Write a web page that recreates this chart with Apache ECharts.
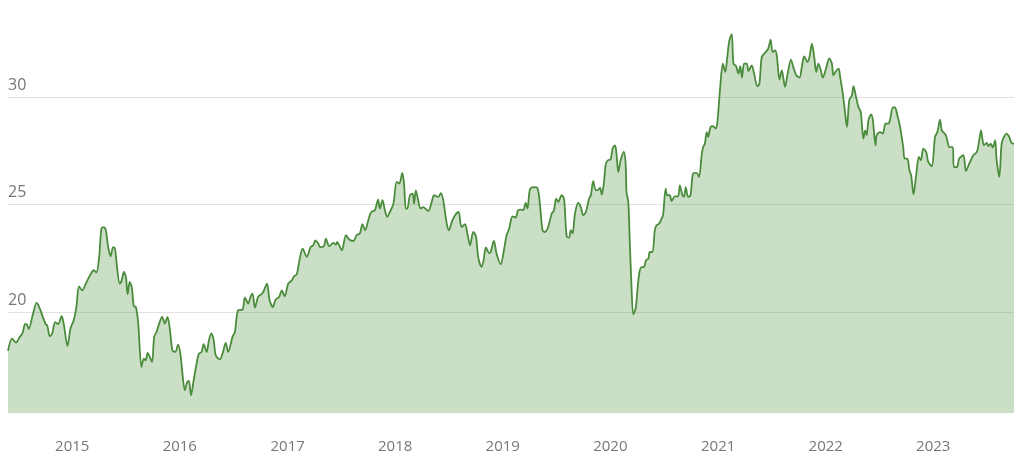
<!DOCTYPE html>
<html>
<head>
<meta charset="utf-8">
<script src="https://cdn.jsdelivr.net/npm/echarts@6/dist/echarts.min.js"></script>
<style>
html,body{margin:0;padding:0;background:#fff;}
#chart{width:1024px;height:468px;}
</style>
</head>
<body>
<div id="chart"></div>
<script>
const dates = [
"2014-05-28","2014-06-11","2014-06-24","2014-07-07","2014-07-16","2014-07-25","2014-07-30","2014-08-06","2014-08-21","2014-09-02",
"2014-09-11","2014-09-24","2014-10-03","2014-10-08","2014-10-17","2014-10-25","2014-11-04","2014-11-14","2014-11-26","2014-12-03",
"2014-12-16","2014-12-26","2015-01-06","2015-01-15","2015-01-24","2015-02-04","2015-02-15","2015-03-02","2015-03-15","2015-03-24",
"2015-04-02","2015-04-10","2015-04-18","2015-04-25","2015-05-03","2015-05-11","2015-05-20","2015-05-26","2015-06-02","2015-06-11",
"2015-06-18","2015-06-25","2015-07-02","2015-07-08","2015-07-15","2015-07-22","2015-07-29","2015-08-05","2015-08-13","2015-08-24",
"2015-09-01","2015-09-07","2015-09-14","2015-09-21","2015-09-29","2015-10-06","2015-10-14","2015-10-23","2015-11-02","2015-11-11",
"2015-11-20","2015-11-28","2015-12-07","2015-12-17","2015-12-26","2016-01-03","2016-01-10","2016-01-18","2016-01-26","2016-02-01",
"2016-02-08","2016-02-17","2016-02-27","2016-03-06","2016-03-15","2016-03-22","2016-04-01","2016-04-09","2016-04-17","2016-04-25",
"2016-05-02","2016-05-16","2016-05-25","2016-06-05","2016-06-13","2016-06-28","2016-07-06","2016-07-17","2016-08-01","2016-08-09",
"2016-08-20","2016-08-28","2016-09-04","2016-09-12","2016-09-23","2016-10-08","2016-10-15","2016-10-23","2016-11-01","2016-11-12",
"2016-11-21","2016-12-03","2016-12-12","2016-12-22","2017-01-03","2017-01-15","2017-01-23","2017-02-01","2017-02-10","2017-02-21",
"2017-03-07","2017-03-20","2017-03-29","2017-04-05","2017-04-15","2017-04-21","2017-05-04","2017-05-11","2017-05-22","2017-06-05",
"2017-06-14","2017-06-18","2017-06-25","2017-07-04","2017-07-18","2017-07-29","2017-08-12","2017-08-23","2017-09-03","2017-09-12",
"2017-09-21","2017-10-03","2017-10-12","2017-10-24","2017-11-04","2017-11-10","2017-11-19","2017-11-27","2017-12-05","2017-12-14",
"2017-12-26","2018-01-06","2018-01-15","2018-01-25","2018-01-31","2018-02-06","2018-02-11","2018-02-20","2018-03-01","2018-03-06",
"2018-03-12","2018-03-20","2018-03-28","2018-04-06","2018-04-23","2018-05-05","2018-05-13","2018-05-27","2018-06-05","2018-06-13",
"2018-06-25","2018-07-02","2018-07-12","2018-07-23","2018-08-04","2018-08-14","2018-08-26","2018-09-03","2018-09-12","2018-09-23",
"2018-10-02","2018-10-10","2018-10-21","2018-10-27","2018-11-05","2018-11-16","2018-11-21","2018-12-02","2018-12-11","2018-12-25",
"2019-01-05","2019-01-14","2019-01-23","2019-02-03","2019-02-14","2019-02-22","2019-03-06","2019-03-11","2019-03-20","2019-03-26",
"2019-04-03","2019-04-14","2019-04-28","2019-05-07","2019-05-16","2019-05-24","2019-06-04","2019-06-16","2019-06-24","2019-07-01",
"2019-07-08","2019-07-20","2019-07-28","2019-08-06","2019-08-14","2019-08-20","2019-08-26","2019-09-03","2019-09-14","2019-09-23",
"2019-10-01","2019-10-10","2019-10-21","2019-10-27","2019-11-04","2019-11-13","2019-11-21","2019-11-27","2019-12-03","2019-12-10",
"2019-12-17","2019-12-25","2020-01-02","2020-01-09","2020-01-17","2020-01-22","2020-01-28","2020-02-05","2020-02-16","2020-02-22",
"2020-02-25","2020-03-02","2020-03-07","2020-03-13","2020-03-19","2020-03-27","2020-04-01","2020-04-08","2020-04-16","2020-04-24",
"2020-05-01","2020-05-09","2020-05-14","2020-05-23","2020-05-31","2020-06-06","2020-06-15","2020-06-23","2020-06-28","2020-07-07",
"2020-07-12","2020-07-21","2020-07-27","2020-08-07","2020-08-18","2020-08-24","2020-09-01","2020-09-07","2020-09-13","2020-09-21",
"2020-09-29","2020-10-08","2020-10-20","2020-10-28","2020-11-06","2020-11-11","2020-11-17","2020-11-23","2020-11-28","2020-12-06",
"2020-12-15","2020-12-24","2020-12-30","2021-01-08","2021-01-17","2021-01-25","2021-02-01","2021-02-08","2021-02-16","2021-02-22",
"2021-03-03","2021-03-11","2021-03-17","2021-03-23","2021-03-30","2021-04-08","2021-04-14","2021-04-25","2021-05-03","2021-05-14",
"2021-05-21","2021-05-29","2021-06-09","2021-06-20","2021-06-28","2021-07-05","2021-07-13","2021-07-19","2021-07-28","2021-08-05",
"2021-08-16","2021-08-24","2021-09-05","2021-09-13","2021-09-23","2021-10-04","2021-10-12","2021-10-20","2021-10-31","2021-11-07",
"2021-11-15","2021-11-23","2021-11-30","2021-12-07","2021-12-15","2021-12-22","2022-01-02","2022-01-13","2022-01-22","2022-01-27",
"2022-02-05","2022-02-14","2022-02-19","2022-02-28","2022-03-08","2022-03-14","2022-03-22","2022-03-31","2022-04-05","2022-04-14",
"2022-04-22","2022-04-30","2022-05-09","2022-05-15","2022-05-20","2022-05-26","2022-06-04","2022-06-10","2022-06-19","2022-06-23",
"2022-07-05","2022-07-14","2022-07-23","2022-08-02","2022-08-07","2022-08-17","2022-08-24","2022-09-01","2022-09-10","2022-09-21",
"2022-09-26","2022-10-05","2022-10-12","2022-10-18","2022-10-26","2022-11-04","2022-11-13","2022-11-20","2022-11-28","2022-12-08",
"2022-12-15","2022-12-27","2023-01-07","2023-01-15","2023-01-24","2023-01-30","2023-02-13","2023-02-25","2023-03-08","2023-03-12",
"2023-03-22","2023-03-30","2023-04-13","2023-04-22","2023-05-03","2023-05-17","2023-05-29","2023-06-06","2023-06-12","2023-06-22",
"2023-07-01","2023-07-08","2023-07-15","2023-07-22","2023-07-30","2023-08-04","2023-08-13","2023-08-21","2023-08-29","2023-09-07",
"2023-09-16","2023-09-24","2023-10-02"
];
const values = [
18.19,18.76,18.58,18.84,19.00,19.43,19.43,19.21,19.92,20.42,
20.23,19.74,19.43,19.38,18.87,19.00,19.53,19.43,19.80,19.46,
18.42,19.23,19.61,20.23,21.19,21.00,21.28,21.70,21.94,21.84,
22.51,23.88,23.95,23.80,23.02,22.59,23.02,22.95,22.09,21.32,
21.47,21.86,21.63,20.82,21.40,21.16,20.26,20.23,19.46,17.44,
17.83,17.75,18.09,17.91,17.67,18.84,19.07,19.46,19.77,19.46,
19.77,19.23,18.22,18.14,18.48,18.06,17.13,16.36,16.74,16.79,
16.12,16.82,17.60,18.06,18.14,18.50,18.14,18.69,19.00,18.69,
17.99,17.79,18.06,18.56,18.14,18.84,19.07,20.08,20.11,20.67,
20.39,20.70,20.85,20.20,20.70,20.88,21.09,21.32,20.54,20.23,
20.57,20.70,21.00,20.73,21.32,21.47,21.66,21.75,22.41,22.95,
22.56,23.02,23.10,23.33,23.18,23.02,23.06,23.41,23.06,23.21,
23.13,23.26,23.10,22.87,23.57,23.37,23.30,23.57,23.65,24.08,
23.80,24.34,24.65,24.73,25.23,24.81,25.20,24.73,24.42,24.65,
25.04,26.05,25.97,26.47,25.97,24.81,24.81,25.43,25.50,25.04,
25.66,25.20,24.81,24.88,24.70,25.12,25.43,25.35,25.53,25.20,
24.11,23.80,24.19,24.50,24.65,23.95,24.08,23.65,23.10,23.72,
23.52,22.53,22.10,22.33,23.00,22.74,22.79,23.30,22.71,22.22,
22.87,23.57,23.88,24.45,24.39,24.73,24.76,24.73,25.07,24.81,
25.69,25.81,25.78,25.04,23.80,23.72,23.95,24.57,24.73,25.27,
25.12,25.43,25.27,23.52,23.46,23.80,23.65,24.57,25.07,24.88,
24.50,24.65,25.27,25.43,26.08,25.66,25.69,25.78,25.46,25.97,
26.90,27.06,27.09,27.60,27.75,27.36,26.51,27.06,27.44,26.90,
25.58,25.12,23.33,21.16,19.89,20.16,20.85,21.79,22.09,22.09,
22.40,22.48,22.79,22.79,23.80,24.03,24.11,24.34,24.50,25.74,
25.43,25.43,25.16,25.38,25.38,25.89,25.47,25.35,25.81,25.35,
25.43,26.44,26.47,26.28,27.29,27.67,27.83,28.37,28.14,28.60,
28.64,28.53,28.92,30.47,31.55,31.16,31.86,32.64,32.92,31.55,
31.43,31.09,31.43,30.90,31.55,31.55,31.21,31.47,31.09,30.50,
30.62,31.86,32.05,32.25,32.67,32.09,32.17,31.94,30.81,31.24,
30.47,31.01,31.74,31.40,31.01,30.90,31.40,31.89,31.63,31.86,
32.48,31.86,31.16,31.55,31.27,30.90,31.32,31.79,31.55,31.01,
31.21,31.32,30.93,30.16,29.23,28.60,29.85,30.08,30.50,30.00,
29.53,29.30,28.06,28.45,28.22,28.92,29.19,28.92,27.75,28.22,
28.37,28.30,28.76,28.76,28.92,29.51,29.51,29.15,28.64,27.67,
27.13,27.13,26.59,26.36,25.47,26.36,27.21,27.06,27.60,27.44,
26.98,26.78,28.14,28.37,28.95,28.45,28.22,27.67,27.67,26.74,
26.74,27.13,27.29,26.56,26.90,27.29,27.44,27.99,28.45,27.75,
27.86,27.71,27.83,27.65,27.99,27.06,26.28,27.83,28.14,28.30,
28.14,27.86,27.83
];
const seriesData = dates.map((d, i) => [d, values[i]]);
const lineColor = '#4b8c3c';
const chart = echarts.init(document.getElementById('chart'), null, {renderer: 'canvas'});
const YEAR = 365.25 * 24 * 3600 * 1000;
chart.setOption({
  animation: false,
  grid: {left: 8, right: 10, top: 11, bottom: 55, containLabel: false},
  xAxis: {
    type: 'time',
    min: dates[0],
    max: dates[dates.length - 1],
    minInterval: YEAR * 0.99,
    maxInterval: YEAR * 1.01,
    axisLine: {show: false},
    axisTick: {show: false},
    splitLine: {show: false},
    axisLabel: {
      color: '#777',
      fontFamily: 'Open Sans',
      fontSize: 15,
      margin: 26,
      hideOverlap: false,
      formatter: function (val) {
        const d = new Date(val);
        if (d.getMonth() === 0 && d.getDate() === 1) return String(d.getFullYear());
        return '';
      }
    }
  },
  yAxis: {
    type: 'value',
    min: 15.3,
    max: 34,
    splitNumber: 4,
    axisLine: {show: false},
    axisTick: {show: false},
    splitLine: {show: true, showMinLine: false, showMaxLine: false, lineStyle: {color: '#e2e2e2', width: 1}},
    axisLabel: {
      inside: true,
      showMinLabel: false,
      showMaxLabel: false,
      color: '#777',
      fontFamily: 'Open Sans',
      fontSize: 16,
      margin: 0,
      verticalAlign: 'bottom',
      padding: [0, 0, 4, 0]
    }
  },
  series: [{
    type: 'line',
    data: seriesData,
    smooth: 0.3,
    showSymbol: false,
    symbol: 'none',
    lineStyle: {color: lineColor, width: 1.8},
    itemStyle: {color: lineColor},
    areaStyle: {color: lineColor, opacity: 0.29}
  }]
});
</script>
</body>
</html>
